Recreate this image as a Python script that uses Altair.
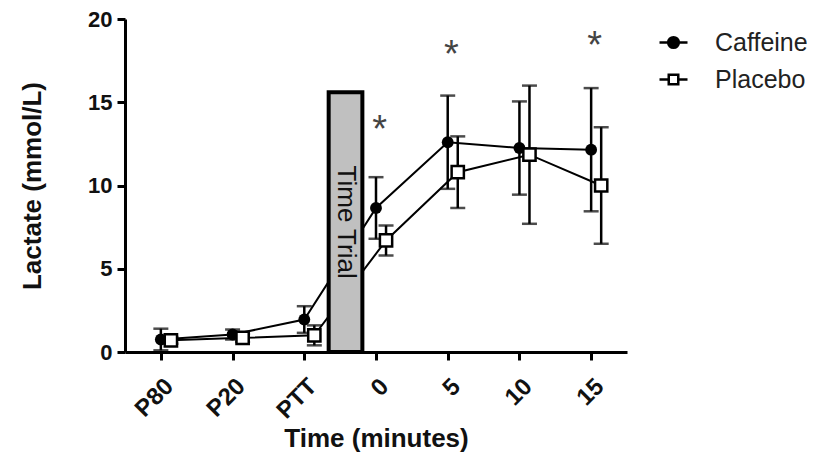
import altair as alt
import pandas as pd

time_labels = ["P80", "P20", "PTT", "0", "5", "10", "15"]
series_names = ["Caffeine", "Placebo"]
caffeine_mean = [0.75, 1.05, 1.95, 8.65, 12.6, 12.25, 12.15]
caffeine_sd = [0.65, 0.3, 0.8, 1.85, 2.8, 2.8, 3.7]
placebo_mean = [0.7, 0.85, 1.0, 6.7, 10.8, 11.85, 10.0]
placebo_sd = [0.2, 0.25, 0.6, 0.9, 2.15, 4.15, 3.5]
sig_times = ["0", "5", "15"]
sig_y = [13.3, 17.8, 18.3]
trial_label = "Time Trial"
trial_x = [2.34, 2.81]
trial_top = 15.6

offsets = {"Caffeine": 0.0, "Placebo": 0.14}
rows = []
for name, means, sds in [("Caffeine", caffeine_mean, caffeine_sd),
                         ("Placebo", placebo_mean, placebo_sd)]:
    for i, (m, s) in enumerate(zip(means, sds)):
        rows.append({"series": name, "pos": i + offsets[name], "val": m,
                     "lo": m - s, "hi": m + s})
df = pd.DataFrame(rows)

star_df = pd.DataFrame({"pos": [time_labels.index(t) + 0.05 for t in sig_times],
                        "val": sig_y, "txt": ["*"] * len(sig_times)})
box_df = pd.DataFrame({"pos": [trial_x[0]], "pos2": [trial_x[1]],
                       "val": [0.0], "val2": [trial_top],
                       "cx": [(trial_x[0] + trial_x[1]) / 2], "cy": [trial_top / 2],
                       "txt": [trial_label]})

FONT = "Liberation Sans"
label_expr = "[" + ",".join("'%s'" % t for t in time_labels) + "][datum.value]"

x_axis = alt.Axis(values=list(range(len(time_labels))), labelExpr=label_expr,
                  title="Time (minutes)", labelAngle=-45, labelPadding=14,
                  labelFontSize=24, titlePadding=2)
y_axis = alt.Axis(values=[0, 5, 10, 15, 20], title="Lactate (mmol/L)", titlePadding=42)
x_scale = alt.Scale(domain=[-0.5, 6.5], nice=False, zero=False)
y_scale = alt.Scale(domain=[0, 20], nice=False)

def X(f):
    return alt.X(f, scale=x_scale, axis=x_axis)

def Y(f):
    return alt.Y(f, scale=y_scale, axis=y_axis)

base = alt.Chart(df)

lines = base.mark_line(color="black", strokeWidth=2).encode(
    x=X("pos:Q"), y=Y("val:Q"), detail="series:N")

box = alt.Chart(box_df).mark_rect(fill="#c0c0c0", stroke="black", strokeWidth=4).encode(
    x=X("pos:Q"), x2="pos2:Q", y=Y("val:Q"), y2="val2:Q")

box_text = alt.Chart(box_df).mark_text(angle=90, font=FONT, fontSize=26, color="#111").encode(
    x=X("cx:Q"), y=Y("cy:Q"), text="txt:N")

err = base.mark_rule(color="black", strokeWidth=2.5).encode(
    x=X("pos:Q"), y=Y("lo:Q"), y2="hi:Q")
cap_lo = base.mark_tick(orient="horizontal", color="black", size=15, thickness=2.5).encode(
    x=X("pos:Q"), y=Y("lo:Q"))
cap_hi = base.mark_tick(orient="horizontal", color="black", size=15, thickness=2.5).encode(
    x=X("pos:Q"), y=Y("hi:Q"))

pts_c = base.transform_filter(alt.datum.series == "Caffeine").mark_point(
    shape="circle", filled=True, color="black", size=140, opacity=1).encode(
    x=X("pos:Q"), y=Y("val:Q"))
pts_p = base.transform_filter(alt.datum.series == "Placebo").mark_point(
    shape="square", filled=True, fill="white", stroke="black", strokeWidth=2.5,
    size=150, opacity=1).encode(x=X("pos:Q"), y=Y("val:Q"))

stars = alt.Chart(star_df).mark_text(font=FONT, fontSize=38, color="#444", baseline="middle").encode(
    x=X("pos:Q"), y=Y("val:Q"), text="txt:N")

caff_path = "M-1,0H1M0.38,0A0.38,0.38,0,1,1,-0.38,0A0.38,0.38,0,1,1,0.38,0Z"
plac_path = "M-1,0H-0.34M0.34,0H1M-0.34,-0.34H0.34V0.34H-0.34Z"
legend_layer = base.transform_filter(alt.datum.pos < -100).mark_point(
    strokeWidth=2.5, opacity=1).encode(
    x=X("pos:Q"), y=Y("val:Q"),
    shape=alt.Shape("series:N", scale=alt.Scale(domain=series_names, range=[caff_path, plac_path]),
                    legend=alt.Legend(title=None, orient="none", legendX=533, legendY=8,
                                      symbolSize=784, symbolStrokeWidth=2.5,
                                      labelFont=FONT,
                                      labelFontSize=25, labelColor="#222",
                                      labelOffset=26, rowPadding=8, symbolOpacity=1)),
    fill=alt.Fill("series:N", scale=alt.Scale(domain=series_names, range=["black", "white"])),
    stroke=alt.Stroke("series:N", scale=alt.Scale(domain=series_names, range=["black", "black"])),
)

chart = alt.layer(lines, box, box_text, err, cap_lo, cap_hi, pts_c, pts_p, stars, legend_layer).properties(
    width=502, height=333,
    autosize=alt.AutoSizeParams(type="none"),
    padding={"left": 117, "top": 11, "right": 180, "bottom": 100},
).configure_axis(
    domainColor="black", domainWidth=3, tickColor="black", tickWidth=3, tickSize=8,
    labelFont=FONT, labelFontSize=22, labelFontWeight="bold", labelColor="#111",
    labelPadding=5, titleFont=FONT, titleFontSize=26, titleFontWeight="bold",
    titleColor="#111", grid=False,
).configure_view(stroke=None)

chart.save("out.html", embed_options={"renderer": "svg", "actions": False})
